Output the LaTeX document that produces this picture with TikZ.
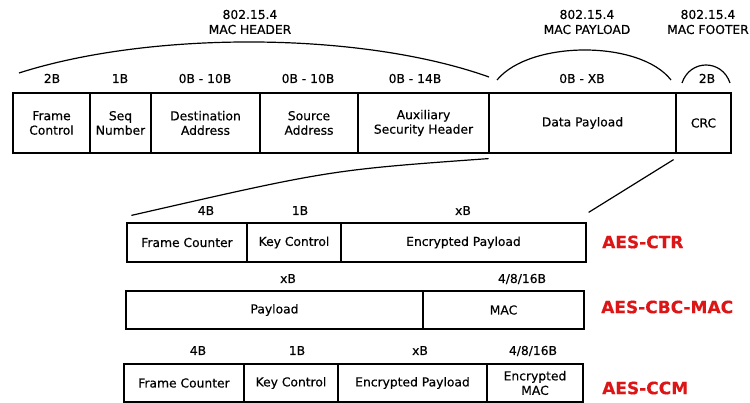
\documentclass[tikz,border=0pt]{standalone}
\usepackage{fontspec}
\setmainfont[FakeBold=0.4]{DejaVu Sans}
\definecolor{aesred}{RGB}{220,22,22}

\begin{document}
\begin{tikzpicture}[x=1pt,y=-1pt,
    every node/.style={inner sep=0pt},
    field/.style={draw,line width=1.2pt,align=center,font=\fontsize{12.3}{14.5}\selectfont},
    size/.style={anchor=base,font=\fontsize{12.3}{14.5}\selectfont},
    title/.style={align=center,font=\fontsize{12.3}{15}\selectfont},
    mode/.style={anchor=west,text=aesred,font=\fontsize{17}{18}\selectfont\bfseries},
    brace/.style={line width=1.2pt}]

  \useasboundingbox (0,0) rectangle (750,403);

  %Notation: {name/left edge/right edge/text}, rows top to bottom
  % 802.15.4 frame
  \foreach \n/\xa/\xb/\t in {fc/13/90/{Frame\\Control},sn/90/151/{Seq\\Number},
      da/151/260/{Destination\\Address},sa/260/358/{Source\\Address},
      ash/358/489/{Auxiliary\\Security Header},dp/489/676/{Data Payload},crc/676/731/{CRC}}{
    \node[field,minimum width=\xb-\xa,minimum height=60] (\n) at ({(\xa+\xb)/2},123) {\t};
  }
  % AES-CTR
  \foreach \n/\xa/\xb/\t in {ctrfc/127/247/{Frame Counter},ctrkc/247/341/{Key Control},
      ctrep/341/586/{Encrypted Payload}}{
    \node[field,minimum width=\xb-\xa,minimum height=39] (\n) at ({(\xa+\xb)/2},242.5) {\t};
  }
  % AES-CBC-MAC
  \foreach \n/\xa/\xb/\t in {cbcpl/126/423/{Payload},cbcmac/423/584/{MAC}}{
    \node[field,minimum width=\xb-\xa,minimum height=38] (\n) at ({(\xa+\xb)/2},310) {\t};
  }
  % AES-CCM
  \foreach \n/\xa/\xb/\t in {ccmfc/124/244/{Frame Counter},ccmkc/244/338/{Key Control},
      ccmep/338/487/{Encrypted Payload},ccmmac/487/583/{Encrypted\\MAC}}{
    \node[field,minimum width=\xb-\xa,minimum height=38] (\n) at ({(\xa+\xb)/2},383) {\t};
  }

  % Field sizes
  \foreach \n/\x/\y/\s in {fc/52/83/2B,sn/120/83/1B,da/205/83/0B - 10B,sa/308/83/0B - 10B,
      ash/415/83/0B - 14B,dp/582/83/0B - XB,crc/707/83/2B,
      ctrfc/206/215/4B,ctrkc/300/215/1B,ctrep/463/215/xB,
      cbcpl/288/283/xB,cbcmac/522/283/{4/8/16B},
      ccmfc/198/355/4B,ccmkc/297/355/1B,ccmep/420/355/xB,ccmmac/533/355/{4/8/16B}}{
    \node[size] (\n-sz) at (\x,\y) {\s};
  }

  % Frame parts
  \node[title] (hdr) at (250,22) {802.15.4\\MAC HEADER};
  \node[title] (pld) at (587,22) {802.15.4\\MAC PAYLOAD};
  \node[title] (ftr) at (708,22) {802.15.4\\MAC FOOTER};
  \draw[brace] (19,73) .. controls (150,31) and (360,31) .. (489,77);
  \draw[brace] (497,80) .. controls (530,40) and (640,40) .. (671,80);
  \draw[brace] (682,83) .. controls (690,59) and (722,59) .. (730,83);

  % Zoom on the payload
  \draw[brace] ([shift={(-1,5)}]ash.south east) .. controls (330,170) .. ([shift={(5,-7)}]ctrfc.north west);
  \draw[brace] ([shift={(-3,6)}]dp.south east) -- ([shift={(2,-10)}]ctrep.north east);

  % Modes
  \node[mode] (ctr) at (602,242) {AES-CTR};
  \node[mode] (cbc) at (601,307) {AES-CBC-MAC};
  \node[mode] (ccm) at (602,388) {AES-CCM};
\end{tikzpicture}
\end{document}
